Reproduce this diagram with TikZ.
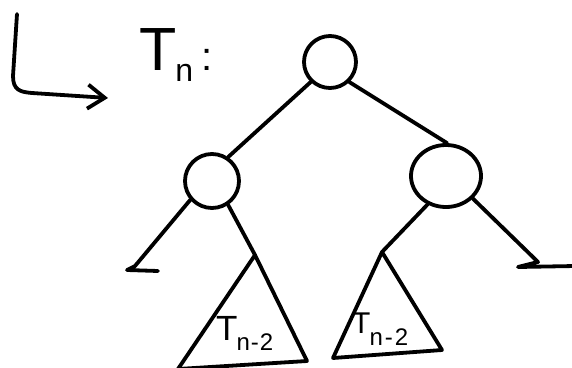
\documentclass[tikz,border=0pt]{standalone}
\usepackage{fontspec}
\setmainfont{Liberation Sans}
\usetikzlibrary{arrows.meta,shapes.geometric}
\begin{document}
\begin{tikzpicture}[x=1pt,y=-1pt,
  stroke/.style={line width=3.8pt,line cap=round,line join=round},
  vertex/.style={circle,draw,line width=3.8pt,inner sep=0pt},
  label/.style={anchor=base west,inner sep=0pt},
]
\useasboundingbox (0,0) rectangle (572,367);
\clip (0,0) rectangle (572,367);
% tree nodes
\node[vertex,minimum size=52pt] (root) at (330,62) {};
\node[vertex,minimum size=54pt] (lc) at (212,181) {};
\node[ellipse,draw,line width=3.8pt,minimum width=70pt,minimum height=62pt,inner sep=0pt] (rc) at (446,176) {};
% coordinates
\coordinate (h1) at (17,14);
\coordinate (h2) at (13,76);
\coordinate (h3) at (108,98);
\coordinate (la) at (135,266);
\coordinate (lnl) at (127,270);
\coordinate (lnr) at (158,271);
\coordinate (lt) at (255,255);
\coordinate (ltl) at (178,369);
\coordinate (ltr) at (307,361);
\coordinate (rt) at (382,252);
\coordinate (rtl) at (333,358);
\coordinate (rtr) at (442,350);
\coordinate (ra) at (538,262);
\coordinate (rnl) at (518,267);
\coordinate (rnr) at (575,266);
% hooked arrow
\draw[stroke,-{Straight Barb[length=17pt,width=24pt]}] (h1) -- (h2) .. controls (13,90) and (20,92) .. (32,93) -- (h3);
% label T_n:
\node[label] (tn) at (139,70) {\fontsize{61}{61}\selectfont T\kern-1pt\raisebox{-11pt}{\fontsize{32}{32}\selectfont n}\kern8pt{\fontsize{40}{40}\selectfont :}};
% edges
\draw[stroke] (root.-134) -- (lc.56);
\draw[stroke] (root.-46) -- (rc.88);
\draw[stroke] (lc.221) -- (la) -- (lnl) -- (lnr);
\draw[stroke] (lc.-56) -- (lt);
\draw[stroke] (lt) -- (ltl) -- (ltr) -- cycle;
\draw[stroke] (rc.-123) -- (rt);
\draw[stroke] (rt) -- (rtl) -- (rtr) -- cycle;
\draw[stroke] (rc.-40) -- (ra) -- (rnl) -- (rnr);
% subtree labels
\node[label] (tl) at (216,340) {\fontsize{35}{35}\selectfont T\kern-1pt\raisebox{-10pt}{\fontsize{24}{24}\selectfont n\kern1pt-\kern1pt2}};
\node[label] (tr) at (352,333) {\fontsize{30}{30}\selectfont T\kern-1pt\raisebox{-12pt}{\fontsize{24}{24}\selectfont n\kern2pt-\kern2pt2}};
\end{tikzpicture}
\end{document}
